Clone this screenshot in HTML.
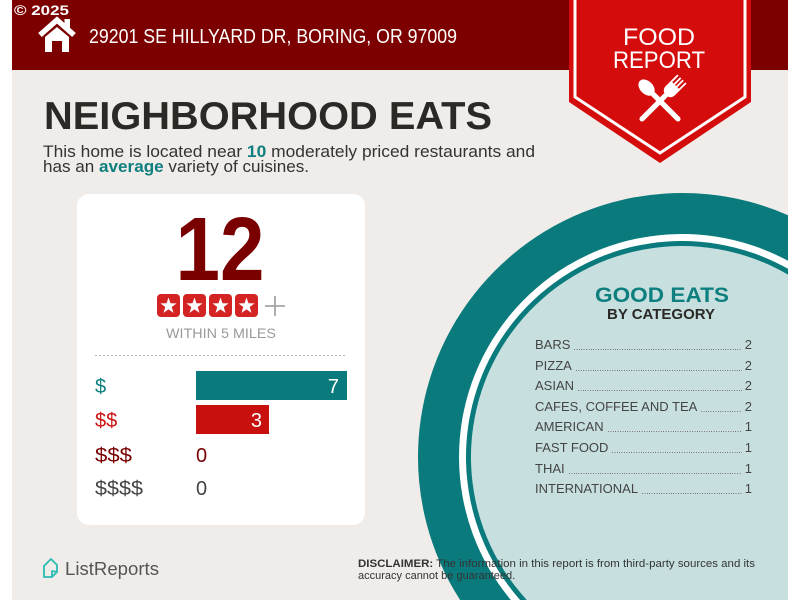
<!DOCTYPE html>
<html><head><meta charset="utf-8">
<style>
html,body{margin:0;padding:0;background:#fff;width:800px;height:600px;overflow:hidden;}
body{position:relative;font-family:"Liberation Sans",sans-serif;}
svg{position:absolute;left:0;top:0;overflow:hidden;display:block;}
.list{position:absolute;left:535px;top:335px;width:217px;font-family:"Liberation Sans",sans-serif;font-size:13px;color:#444;}
.row{display:flex;height:20.6px;line-height:20.6px;white-space:nowrap;}
.row .d{flex:1;height:1px;margin:14px 3px 0 4px;background-image:repeating-linear-gradient(to right,#777 0 1px,transparent 1px 2.4px);}
</style></head>
<body>
<svg width="800" height="600" viewBox="0 0 800 600" xmlns="http://www.w3.org/2000/svg" font-family="Liberation Sans, sans-serif">
  <defs>
    <polygon id="st" points="0,-8.5 2,-2.75 8.08,-2.63 3.23,1.05 5,6.88 0,3.4 -5,6.88 -3.23,1.05 -8.08,-2.63 -2,-2.75" fill="#fff"/>
  </defs>
  <rect x="12" y="0" width="776" height="600" fill="#f0ece9"/>
  <rect x="12" y="0" width="776" height="70" fill="#7c0000"/>
  <text x="14" y="15" font-size="14" font-weight="bold" fill="#fff" textLength="55" lengthAdjust="spacingAndGlyphs">© 2025</text>
  <polyline points="40,35 57,20 74,35" fill="none" stroke="#fff" stroke-width="5.5" stroke-linejoin="miter"/>
  <rect x="64.5" y="19" width="5.5" height="9" fill="#fff"/>
  <path d="M45,37 L57,27 L69,37 L69,52 L62,52 L62,41 L52,41 L52,52 L45,52 Z" fill="#fff"/>
  <text x="89" y="43" font-size="20" fill="#fff" textLength="368" lengthAdjust="spacingAndGlyphs">29201 SE HILLYARD DR, BORING, OR 97009</text>

  <path d="M788,215.2 A264,264 0 0 0 460.1,600 L788,600 Z" fill="#0a7a7c"/>
  <path d="M788,260.8 A223,223 0 0 0 510.9,600 L788,600 Z" fill="#ffffff"/>
  <path d="M788,268.8 A216,216 0 0 0 520.1,600 L788,600 Z" fill="#0a7a7c"/>
  <path d="M788,274.6 A211,211 0 0 0 526.8,600 L788,600 Z" fill="#c7e0df"/>

  <polygon points="569,0 751,0 751,102 660,163 569,102" fill="#d40c0c"/>
  <polyline points="575,0 575,97 660,153 745,97 745,0" fill="none" stroke="#fff" stroke-width="3"/>
  <text x="659" y="45" font-size="24" fill="#fff" text-anchor="middle" textLength="72" lengthAdjust="spacingAndGlyphs">FOOD</text>
  <text x="659" y="68" font-size="24" fill="#fff" text-anchor="middle" textLength="92" lengthAdjust="spacingAndGlyphs">REPORT</text>
  <g transform="translate(660,101) rotate(-45)" fill="#fff">
    <ellipse cx="0" cy="-19" rx="6.5" ry="9.5"/>
    <rect x="-2.6" y="-12" width="5.2" height="40" rx="2.6"/>
  </g>
  <g transform="translate(660,101) rotate(45)" fill="#fff">
    <rect x="-2.6" y="-10" width="5.2" height="38" rx="2.6"/>
    <path d="M-6.5,-22 L6.5,-22 L6.5,-15 Q6.5,-9 0,-8 Q-6.5,-9 -6.5,-15 Z"/>
    <rect x="-6.5" y="-31" width="1.8" height="10"/>
    <rect x="-2.6" y="-31" width="1.8" height="10"/>
    <rect x="0.8" y="-31" width="1.8" height="10"/>
    <rect x="4.7" y="-31" width="1.8" height="10"/>
  </g>

  <text x="44" y="129" font-size="39" font-weight="bold" fill="#2b2926" textLength="448" lengthAdjust="spacingAndGlyphs">NEIGHBORHOOD EATS</text>
  <text x="43" y="157" font-size="16.5" fill="#333" textLength="492" lengthAdjust="spacingAndGlyphs">This home is located near <tspan font-weight="bold" fill="#0e7f7f">10</tspan> moderately priced restaurants and</text>
  <text x="43" y="172" font-size="16.5" fill="#333" textLength="266" lengthAdjust="spacingAndGlyphs">has an <tspan font-weight="bold" fill="#0e7f7f">average</tspan> variety of cuisines.</text>

  <rect x="77" y="194" width="288" height="331" rx="12" fill="#fff"/>
  <text x="220" y="280" font-size="90" font-weight="bold" fill="#7a0000" text-anchor="middle" textLength="89" lengthAdjust="spacingAndGlyphs">12</text>
  <g>
    <rect x="157" y="294" width="23" height="23" rx="4" fill="#d32323"/>
    <rect x="183" y="294" width="23" height="23" rx="4" fill="#d32323"/>
    <rect x="209" y="294" width="23" height="23" rx="4" fill="#d32323"/>
    <rect x="235" y="294" width="23" height="23" rx="4" fill="#d32323"/>
    <use href="#st" x="168.5" y="306"/>
    <use href="#st" x="194.5" y="306"/>
    <use href="#st" x="220.5" y="306"/>
    <use href="#st" x="246.5" y="306"/>
    <line x1="265" y1="306" x2="285" y2="306" stroke="#a5a5a5" stroke-width="1.8"/>
    <line x1="275" y1="296" x2="275" y2="316" stroke="#a5a5a5" stroke-width="1.8"/>
  </g>
  <text x="221" y="338" font-size="14" fill="#9a9a9a" text-anchor="middle" textLength="110" lengthAdjust="spacingAndGlyphs">WITHIN 5 MILES</text>
  <line x1="95" y1="355.5" x2="347" y2="355.5" stroke="#b5b5b5" stroke-width="1" stroke-dasharray="2,2"/>

  <rect x="196" y="371" width="151" height="29" fill="#0a7a7c"/>
  <rect x="196" y="405" width="73" height="29" fill="#c8100f"/>
  <text x="339" y="393" font-size="20" fill="#fff" text-anchor="end">7</text>
  <text x="262" y="427" font-size="20" fill="#fff" text-anchor="end">3</text>

  <text x="95" y="393" font-size="20" fill="#0e7f7f">$</text>
  <text x="95" y="427" font-size="20" fill="#cc1111">$$</text>
  <text x="95" y="462" font-size="20" fill="#7a0000" textLength="37" lengthAdjust="spacingAndGlyphs">$$$</text>
  <text x="95" y="495" font-size="20" fill="#444" textLength="48" lengthAdjust="spacingAndGlyphs">$$$$</text>
  <text x="196" y="462" font-size="20" fill="#7a0000">0</text>
  <text x="196" y="495" font-size="20" fill="#444">0</text>

  <text x="662" y="302" font-size="21.5" font-weight="bold" fill="#0e7f7f" text-anchor="middle" textLength="134" lengthAdjust="spacingAndGlyphs">GOOD EATS</text>
  <text x="661" y="319" font-size="15" font-weight="bold" fill="#2b2926" text-anchor="middle" textLength="108" lengthAdjust="spacingAndGlyphs">BY CATEGORY</text>

  <path d="M44,566 L51,559 L57,565 L57,572 L52,577 L44,577 Z M52,577 L52,571 L57,572" fill="none" stroke="#2bbcb3" stroke-width="1.8" stroke-linejoin="round"/>
  <text x="65" y="575" font-size="18" fill="#555" textLength="94" lengthAdjust="spacingAndGlyphs">ListReports</text>
  <text x="358" y="567" font-size="11" fill="#333" textLength="397" lengthAdjust="spacingAndGlyphs"><tspan font-weight="bold">DISCLAIMER:</tspan> The information in this report is from third-party sources and its</text>
  <text x="358" y="579" font-size="11" fill="#333">accuracy cannot be guaranteed.</text>
</svg>

<div class="list">
  <div class="row"><span>BARS</span><span class="d"></span><span>2</span></div>
  <div class="row"><span>PIZZA</span><span class="d"></span><span>2</span></div>
  <div class="row"><span>ASIAN</span><span class="d"></span><span>2</span></div>
  <div class="row"><span>CAFES, COFFEE AND TEA</span><span class="d"></span><span>2</span></div>
  <div class="row"><span>AMERICAN</span><span class="d"></span><span>1</span></div>
  <div class="row"><span>FAST FOOD</span><span class="d"></span><span>1</span></div>
  <div class="row"><span>THAI</span><span class="d"></span><span>1</span></div>
  <div class="row"><span>INTERNATIONAL</span><span class="d"></span><span>1</span></div>
</div>
</body></html>
